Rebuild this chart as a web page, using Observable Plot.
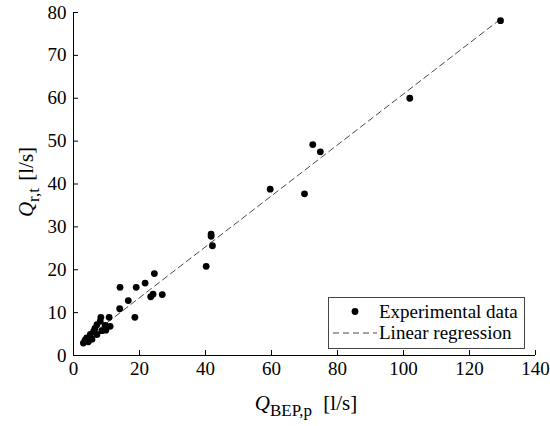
<!DOCTYPE html>
<html><head><meta charset="utf-8">
<script src="https://cdn.jsdelivr.net/npm/d3@7"></script>
<script src="https://cdn.jsdelivr.net/npm/@observablehq/plot@0.6"></script>
<style>
html,body{margin:0;padding:0;background:#fff;}
#chart{position:relative;width:550px;height:426px;}
</style></head><body><div id="chart"></div>
<script>
// Experimental data: Q_BEP,p [l/s] vs Q_r,t [l/s]
const qBEP = [129.4, 101.9, 72.5, 74.8, 59.6, 70.0, 41.7, 41.7, 42.1, 40.2,
              24.5, 21.7, 14.1, 19.0, 16.6, 23.4, 24.1, 26.9, 14.0, 18.6,
              10.8, 8.3, 11.1, 9.8, 7.1, 8.1, 6.1, 5.1, 4.0, 3.0,
              3.5, 7.1, 5.6, 8.6, 9.6, 4.5, 6.5];
const qRT  = [78.1, 60.0, 49.2, 47.5, 38.8, 37.7, 28.3, 27.8, 25.6, 20.8,
              19.1, 16.9, 15.9, 15.9, 12.8, 13.7, 14.3, 14.2, 10.9, 8.9,
              8.9, 8.9, 6.8, 5.9, 7.2, 8.0, 5.6, 4.9, 4.1, 2.9,
              3.6, 4.9, 3.8, 5.8, 7.0, 3.2, 6.3];
// Linear regression coefficients
const regSlope = 0.594;
const regIntercept = 1.6;
const xTicks = [0, 20, 40, 60, 80, 100, 120, 140];
const yTicks = [0, 10, 20, 30, 40, 50, 60, 70, 80];
const legendLabels = ["Experimental data", "Linear regression"];

const points = qBEP.map((x, i) => ({x, y: qRT[i]}));
const regLine = d3.extent(qBEP).map(x => ({x, y: regSlope * x + regIntercept}));

const font = "'Liberation Serif','Times New Roman',serif";
const plot = Plot.plot({
  width: 550, height: 426,
  marginLeft: 73, marginRight: 15, marginTop: 12, marginBottom: 71,
  style: {fontFamily: font, fontSize: "19px", background: "#fff", color: "#000", overflow: "visible"},
  x: {domain: [0, 140]},
  y: {domain: [0, 80]},
  marks: [
    Plot.axisX(xTicks, {tickSize: -5, tickPadding: 11, label: null, fontSize: 19}),
    Plot.axisY(yTicks, {tickSize: -5, tickPadding: 12, label: null, fontSize: 19}),
    Plot.ruleY([0], {stroke: "#000"}),
    Plot.ruleX([0], {stroke: "#000"}),
    Plot.line(regLine, {x: "x", y: "y", stroke: "#333", strokeWidth: 0.9, strokeDasharray: "6,4"}),
    Plot.dot(points, {x: "x", y: "y", r: 3.4, fill: "#000", stroke: "none"})
  ]
});

const svg = d3.select(plot);
// X axis label
const xl = svg.append("text").attr("x", 306).attr("y", 410).attr("text-anchor", "middle")
  .attr("font-family", font).attr("font-size", 21).attr("fill", "#000");
xl.append("tspan").attr("font-style", "italic").text("Q");
xl.append("tspan").attr("font-size", 17).attr("dy", 6).text("BEP,p");
xl.append("tspan").attr("dy", -6).attr("dx", 6).text("\u00a0[l/s]");
// Y axis label
const yl = svg.append("text").attr("transform", "translate(33,182) rotate(-90)").attr("text-anchor", "middle")
  .attr("font-family", font).attr("font-size", 21).attr("fill", "#000");
yl.append("tspan").attr("font-style", "italic").text("Q");
yl.append("tspan").attr("font-size", 17).attr("dy", 6).text("r,t");
yl.append("tspan").attr("dy", -6).attr("dx", 2).text("\u00a0[l/s]");
// Legend
const lg = svg.append("g").attr("font-family", font).attr("font-size", 19).attr("text-anchor", "start");
lg.append("rect").attr("x", 328.5).attr("y", 297.5).attr("width", 196).attr("height", 51)
  .attr("fill", "#fff").attr("stroke", "#444").attr("stroke-width", 1);
lg.append("circle").attr("cx", 355).attr("cy", 311.5).attr("r", 3.4).attr("fill", "#000");
lg.append("text").attr("x", 379).attr("y", 318).attr("text-anchor", "start").text(legendLabels[0]);
lg.append("line").attr("x1", 333).attr("x2", 377).attr("y1", 333).attr("y2", 333)
  .attr("stroke", "#333").attr("stroke-width", 0.9).attr("stroke-dasharray", "6,4");
lg.append("text").attr("x", 379).attr("y", 339).attr("text-anchor", "start").text(legendLabels[1]);

document.getElementById("chart").appendChild(plot);
</script></body></html>
